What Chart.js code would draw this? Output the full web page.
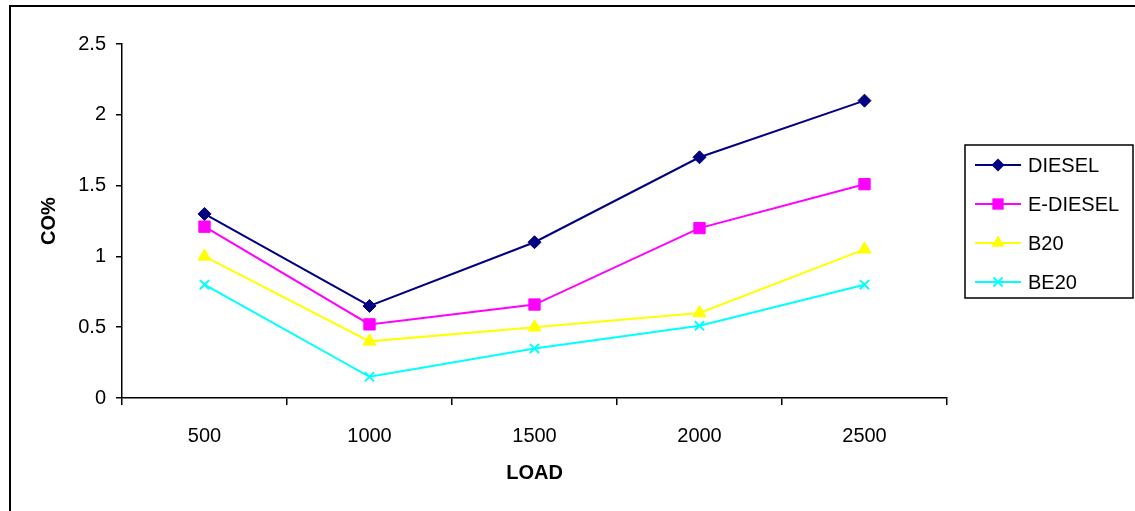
<!DOCTYPE html>
<html>
<head>
<meta charset="utf-8">
<script src="https://cdn.jsdelivr.net/npm/chart.js@4/dist/chart.umd.min.js"></script>
<style>
  html, body { margin: 0; padding: 0; background: #fff; }
  #wrap { width: 1135px; height: 511px; }
</style>
</head>
<body>
<div id="wrap"><canvas id="coChart" width="1135" height="511"></canvas></div>
<script>
// chart data
const loads = ['500', '1000', '1500', '2000', '2500'];
const diesel = [1.3, 0.65, 1.1, 1.7, 2.1];
const eDiesel = [1.21, 0.52, 0.66, 1.2, 1.51];
const b20 = [1.0, 0.4, 0.5, 0.6, 1.05];
const be20 = [0.8, 0.15, 0.35, 0.51, 0.8];
const yTicks = [0, 0.5, 1, 1.5, 2, 2.5];

const FONT = '"Liberation Sans", Arial, sans-serif';
const FS = 20;

// frame round the figure + legend box on the right
const framePlugin = {
  id: 'frame',
  afterDraw(chart) {
    const ctx = chart.ctx;
    ctx.save();
    ctx.strokeStyle = '#000';
    ctx.lineWidth = 2;
    ctx.beginPath();
    ctx.moveTo(10, 520);
    ctx.lineTo(10, 6);
    ctx.lineTo(1140, 6);
    ctx.stroke();

    // legend
    const bx = 965, by = 145, bw = 168, bh = 153;
    ctx.lineWidth = 1.5;
    ctx.strokeRect(bx, by, bw, bh);
    chart.data.datasets.forEach((ds, i) => {
      const y = by + 20 + i * 39;
      ctx.strokeStyle = ds.borderColor;
      ctx.lineWidth = 2;
      ctx.beginPath();
      ctx.moveTo(975, y);
      ctx.lineTo(1021, y);
      ctx.stroke();
      drawMarker(ctx, ds.pointStyle, 998, y, ds.pointRadius, ds.borderColor);
      ctx.fillStyle = '#000';
      ctx.font = FS + 'px ' + FONT;
      ctx.textBaseline = 'middle';
      ctx.fillText(ds.label, 1028, y + 1);
    });
    ctx.restore();
  }
};

function drawMarker(ctx, style, x, y, r, color) {
  ctx.save();
  ctx.fillStyle = color;
  ctx.strokeStyle = color;
  ctx.beginPath();
  if (style === 'rectRot') {
    ctx.moveTo(x, y - r); ctx.lineTo(x + r, y); ctx.lineTo(x, y + r); ctx.lineTo(x - r, y);
    ctx.closePath(); ctx.fill();
  } else if (style === 'rect') {
    const s = r * Math.SQRT1_2;
    ctx.rect(x - s, y - s, s * 2, s * 2); ctx.fill();
  } else if (style === 'triangle') {
    ctx.moveTo(x, y - r); ctx.lineTo(x + r * 0.87, y + r * 0.5); ctx.lineTo(x - r * 0.87, y + r * 0.5);
    ctx.closePath(); ctx.fill();
  } else {
    ctx.lineWidth = 2;
    const d = r * Math.SQRT1_2;
    ctx.moveTo(x - d, y - d); ctx.lineTo(x + d, y + d);
    ctx.moveTo(x + d, y - d); ctx.lineTo(x - d, y + d);
    ctx.stroke();
  }
  ctx.restore();
}

function series(label, data, color, style, radius) {
  return {
    label: label,
    data: data,
    borderColor: color,
    backgroundColor: color,
    borderWidth: 2,
    pointStyle: style,
    pointRadius: radius,
    pointBorderWidth: style === 'crossRot' ? 2 : 1,
    tension: 0
  };
}

new Chart(document.getElementById('coChart'), {
  type: 'line',
  data: {
    labels: loads,
    datasets: [
      series('DIESEL', diesel, '#000080', 'rectRot', 6.5),
      series('E-DIESEL', eDiesel, '#ff00ff', 'rect', 8),
      series('B20', b20, '#ffff00', 'triangle', 7.5),
      series('BE20', be20, '#00ffff', 'crossRot', 6.5)
    ]
  },
  options: {
    responsive: false,
    animation: false,
    layout: { padding: { left: 37, top: 44, right: 188, bottom: 26 } },
    plugins: { legend: { display: false }, tooltip: { enabled: false } },
    scales: {
      x: {
        offset: true,
        grid: { offset: true, drawOnChartArea: false, drawTicks: true, tickLength: 7, color: '#000', lineWidth: 1.5 },
        border: { display: true, color: '#000', width: 1.5 },
        ticks: { color: '#000', font: { family: FONT, size: FS }, padding: 19 },
        title: { display: true, text: 'LOAD', color: '#000', font: { family: FONT, size: FS, weight: 'bold' }, padding: 0 },
        afterFit(scale) { scale.height = 511 - 398 - 26; }
      },
      y: {
        min: 0,
        max: 2.5,
        afterBuildTicks(scale) { scale.ticks = yTicks.map(v => ({ value: v })); },
        grid: { drawOnChartArea: false, drawTicks: true, tickLength: 6, color: '#000', lineWidth: 1.5 },
        border: { display: true, color: '#000', width: 1.5 },
        ticks: { color: '#000', font: { family: FONT, size: FS }, padding: 10, callback: v => String(v) },
        title: { display: true, text: 'CO%', color: '#000', font: { family: FONT, size: FS, weight: 'bold' }, padding: 0 },
        afterFit(scale) { scale.width = 122 - 37; }
      }
    }
  },
  plugins: [framePlugin]
});
</script>
</body>
</html>
